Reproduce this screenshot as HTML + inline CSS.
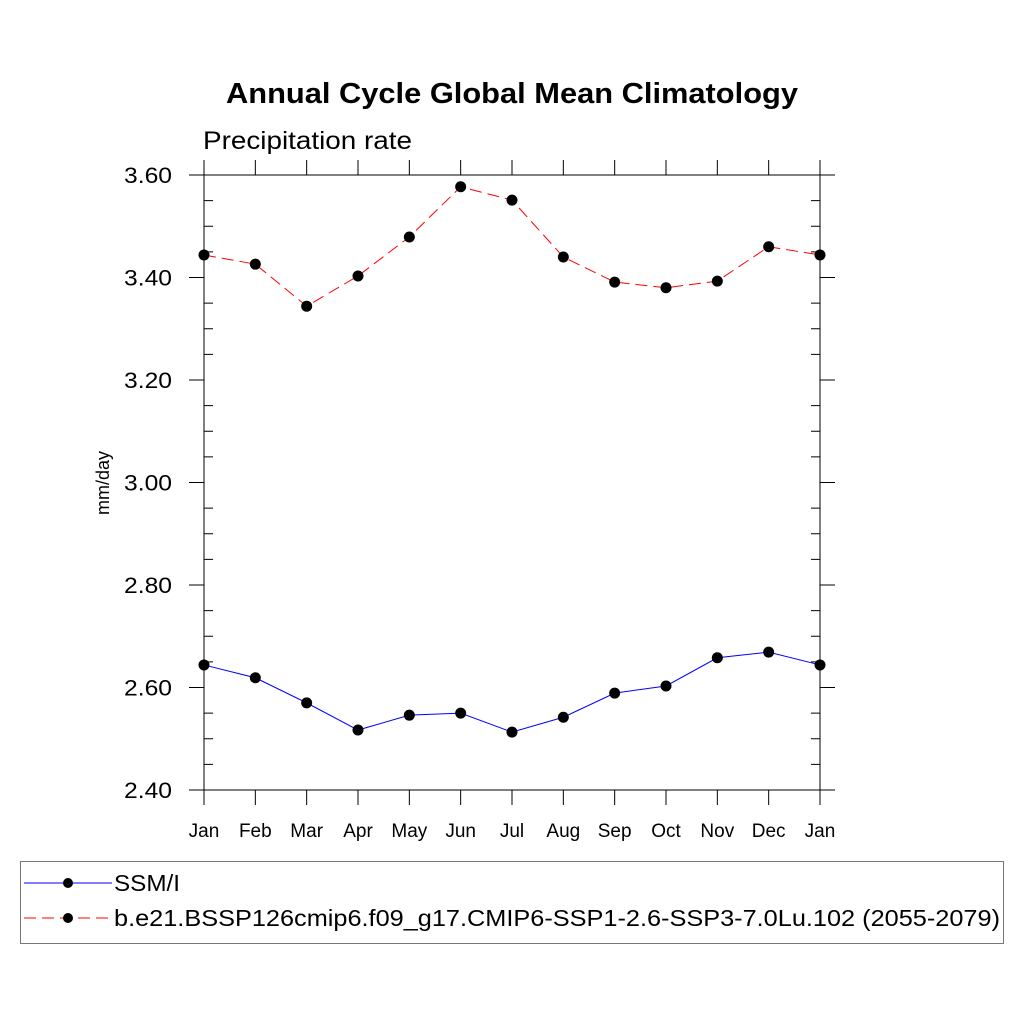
<!DOCTYPE html>
<html><head><meta charset="utf-8"><style>body{margin:0;background:#fff}svg{display:block;font-family:"Liberation Sans",sans-serif}</style></head>
<body>
<svg id="c" width="1024" height="1024" viewBox="0 0 1024 1024">
<text x="226" y="103" font-size="29" font-weight="bold" textLength="572" lengthAdjust="spacingAndGlyphs">Annual Cycle Global Mean Climatology</text>
<text x="203" y="149" font-size="25" textLength="209" lengthAdjust="spacingAndGlyphs">Precipitation rate</text>
<text transform="translate(109,483) rotate(-90)" text-anchor="middle" font-size="18">mm/day</text>
<g id="axes"></g><g id="series"></g>
<rect x="20.5" y="861.5" width="983" height="82" fill="none" stroke="#777" stroke-width="1"/>
<g>
<line x1="24" y1="883" x2="112" y2="883" stroke="#00f" stroke-width="1"/><circle cx="68" cy="883" r="5" fill="#000"/>
<text x="114" y="891" font-size="23" textLength="66" lengthAdjust="spacingAndGlyphs">SSM/I</text></g>
<g>
<line x1="24" y1="918" x2="112" y2="918" stroke="#f00" stroke-width="1" stroke-dasharray="12,6"/><circle cx="68" cy="918" r="5" fill="#000"/>
<text x="114" y="926" font-size="23" textLength="886" lengthAdjust="spacingAndGlyphs">b.e21.BSSP126cmip6.f09_g17.CMIP6-SSP1-2.6-SSP3-7.0Lu.102 (2055-2079)</text></g>
</svg>
<script>
const months=["Jan","Feb","Mar","Apr","May","Jun","Jul","Aug","Sep","Oct","Nov","Dec","Jan"];
const ssmi=[2.644,2.619,2.570,2.517,2.546,2.550,2.513,2.542,2.589,2.603,2.658,2.669,2.644];
const model=[3.444,3.426,3.344,3.403,3.479,3.577,3.551,3.440,3.391,3.380,3.393,3.460,3.444];
const yTicks=["2.40","2.60","2.80","3.00","3.20","3.40","3.60"];
const NS="http://www.w3.org/2000/svg";
const L=204,R=820,T=175,B=790,ymin=2.4,ymax=3.6;
const xs=i=>L+(R-L)*i/(months.length-1);
const ys=v=>B-(v-ymin)/(ymax-ymin)*(B-T);
function mk(p,t,a){const e=document.createElementNS(NS,t);for(const k in a)e.setAttribute(k,a[k]);p.appendChild(e);return e;}
const ax=document.getElementById('axes');
const fr=mk(ax,'rect',{x:L,y:T,width:R-L,height:B-T,fill:'none',stroke:'#000','stroke-width':1});


for(let v=ymin;v<=ymax+1e-6;v+=0.05){const y=ys(v);const major=Math.abs((v-ymin)/0.2-Math.round((v-ymin)/0.2))<1e-6;
 if(major){mk(ax,'line',{x1:L-15,x2:L,y1:y,y2:y,stroke:'#000'});mk(ax,'line',{x1:R,x2:R+15,y1:y,y2:y,stroke:'#000'});}
 else{mk(ax,'line',{x1:L,x2:L+9,y1:y,y2:y,stroke:'#000'});mk(ax,'line',{x1:R-9,x2:R,y1:y,y2:y,stroke:'#000'});}}
yTicks.forEach(t=>{const e=mk(ax,'text',{x:172,y:ys(+t)+8,'text-anchor':'end','font-size':22,textLength:48,lengthAdjust:'spacingAndGlyphs'});e.textContent=t;

});
months.forEach((m,i)=>{const x=xs(i);mk(ax,'line',{x1:x,x2:x,y1:B,y2:B+15,stroke:'#000'});mk(ax,'line',{x1:x,x2:x,y1:T-15,y2:T,stroke:'#000'});
const e=mk(ax,'text',{x:x,y:837,'text-anchor':'middle','font-size':19});e.textContent=m;

});
const sg=document.getElementById('series');
function series(vals,col,dash,name){const pts=vals.map((v,i)=>xs(i)+','+ys(v)).join(' ');
const pl=mk(sg,'polyline',{points:pts,fill:'none',stroke:col,'stroke-width':1,'stroke-dasharray':dash});


vals.forEach((v,i)=>{const c=mk(sg,'circle',{cx:xs(i),cy:ys(v),r:5.5,fill:'#000'});

});}
series(ssmi,'#00f','none','ssmi');
series(model,'#f00','12,6','model');
</script>
</body></html>
